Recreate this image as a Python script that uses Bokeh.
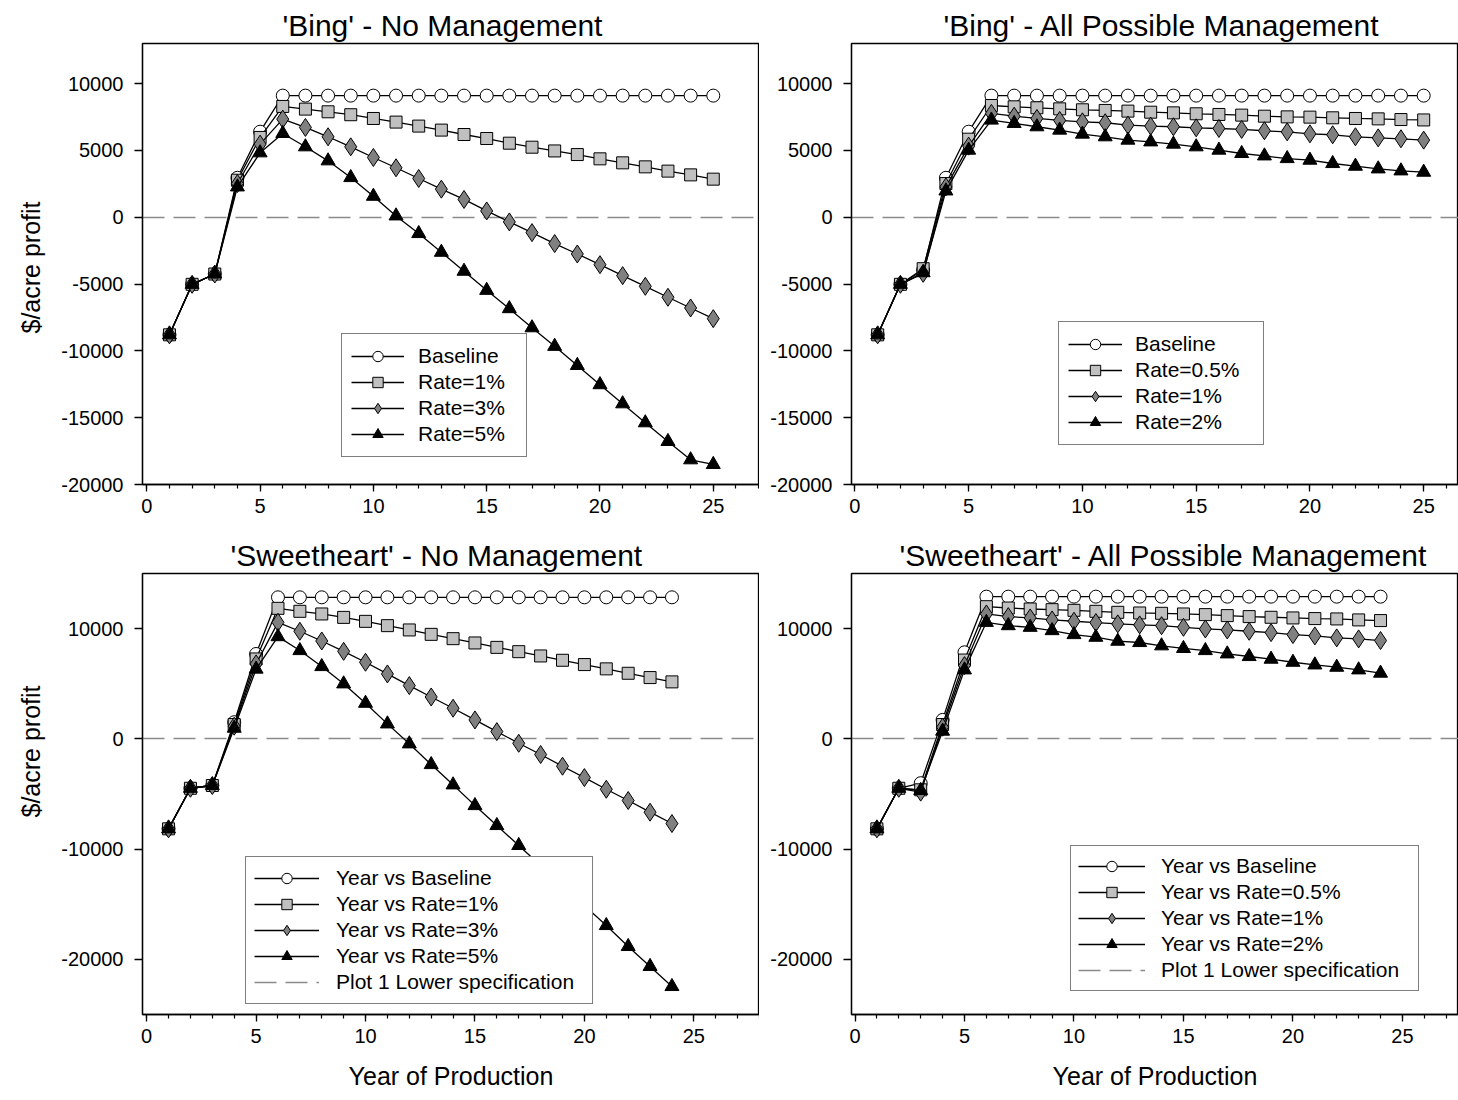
import numpy as np
from bokeh.plotting import figure
from bokeh.layouts import column, row
from bokeh.models import Legend, LegendItem, FixedTicker, Range1d, PrintfTickFormatter, Title
from bokeh.embed import file_html
from bokeh.resources import INLINE

# ---------------- data ----------------
years_bing = list(range(1, 26))
years_sweet = list(range(1, 25))
lower_spec = [0]

bing_nm_base = [-8800, -5020, -4250, 2950, 6400, 9100, 9100, 9100, 9100, 9100, 9100, 9100, 9100,
                9100, 9100, 9100, 9100, 9100, 9100, 9100, 9100, 9100, 9100, 9100, 9100]
bing_nm_r1 = [-8800, -5020, -4250, 2770, 5970, 8290, 8090, 7890, 7670, 7390, 7120, 6820, 6520,
              6190, 5890, 5540, 5240, 4960, 4690, 4370, 4070, 3770, 3450, 3170, 2850]
bing_nm_r3 = [-8800, -5020, -4250, 2520, 5470, 7340, 6720, 6020, 5270, 4470, 3700, 2900, 2100,
              1330, 470, -350, -1150, -1970, -2750, -3550, -4370, -5170, -5990, -6790, -7590]
bing_nm_r5 = [-8800, -5020, -4250, 2270, 4820, 6270, 5270, 4220, 2970, 1570, 100, -1220, -2620,
              -4040, -5470, -6840, -8270, -9660, -11090, -12530, -13960, -15380, -16780, -18150, -18500]

bing_apm_base = [-8800, -5020, -3950, 2950, 6400, 9100, 9100, 9100, 9100, 9100, 9100, 9100, 9100,
                 9100, 9100, 9100, 9100, 9100, 9100, 9100, 9100, 9100, 9100, 9100, 9100]
bing_apm_r05 = [-8800, -5020, -3850, 2520, 5840, 8360, 8260, 8190, 8110, 8040, 7990, 7940, 7860,
                7810, 7740, 7690, 7640, 7560, 7510, 7490, 7440, 7390, 7360, 7310, 7280]
bing_apm_r1 = [-8800, -5020, -4200, 2270, 5320, 7770, 7560, 7390, 7240, 7140, 7070, 6890, 6820,
               6770, 6690, 6640, 6570, 6470, 6390, 6240, 6170, 6020, 5940, 5870, 5770]
bing_apm_r2 = [-8800, -5020, -4150, 1970, 5020, 7270, 7020, 6770, 6520, 6220, 6020, 5770, 5640,
               5470, 5270, 5020, 4770, 4590, 4390, 4270, 4020, 3820, 3620, 3470, 3370]

sweet_nm_base = [-8160, -4480, -4230, 1510, 7700, 12840, 12840, 12840, 12840, 12840, 12840, 12840,
                 12840, 12840, 12840, 12840, 12840, 12840, 12840, 12840, 12840, 12840, 12840, 12840]
sweet_nm_r1 = [-8160, -4480, -4230, 1300, 7250, 11840, 11570, 11330, 11020, 10660, 10270, 9880,
               9480, 9090, 8700, 8300, 7910, 7520, 7130, 6740, 6350, 5950, 5560, 5170]
sweet_nm_r3 = [-8160, -4480, -4230, 1150, 6800, 10570, 9760, 8880, 7940, 6950, 5890, 4830,
               3800, 2780, 1720, 660, -400, -1420, -2480, -3510, -4570, -5590, -6650, -7680]
sweet_nm_r5 = [-8160, -4480, -4230, 970, 6330, 9270, 8010, 6560, 4990, 3230, 1360, -450,
               -2330, -4170, -6050, -7860, -9670, -11480, -13260, -15120, -16930, -18830, -20640, -22460]

sweet_apm_base = [-8160, -4480, -4020, 1720, 7850, 12900, 12900, 12900, 12900, 12900, 12900, 12900,
                  12900, 12900, 12900, 12900, 12900, 12900, 12900, 12900, 12900, 12900, 12900, 12900]
sweet_apm_r05 = [-8160, -4480, -4620, 1300, 7150, 11990, 11870, 11780, 11720, 11660, 11570, 11480,
                 11420, 11390, 11330, 11270, 11180, 11090, 11030, 10970, 10910, 10880, 10790, 10730]
sweet_apm_r1 = [-8160, -4480, -4830, 1060, 6650, 11330, 11090, 10970, 10790, 10670, 10550, 10430,
                10340, 10270, 10120, 9970, 9880, 9760, 9640, 9460, 9340, 9160, 9070, 8920]
sweet_apm_r2 = [-8160, -4480, -4680, 700, 6260, 10570, 10270, 10120, 9820, 9460, 9220, 8860,
                8740, 8440, 8200, 8010, 7710, 7470, 7230, 6950, 6710, 6500, 6260, 5960]

labels_nm = ["Baseline", "Rate=1%", "Rate=3%", "Rate=5%"]
labels_apm = ["Baseline", "Rate=0.5%", "Rate=1%", "Rate=2%"]
labels_nm_s = ["Year vs Baseline", "Year vs Rate=1%", "Year vs Rate=3%", "Year vs Rate=5%"]
labels_apm_s = ["Year vs Baseline", "Year vs Rate=0.5%", "Year vs Rate=1%", "Year vs Rate=2%"]
spec_label = "Plot 1 Lower specification"
y_title = "$/acre profit"
x_title = "Year of Production"

titles = ["'Bing' - No Management", "'Bing' - All Possible Management",
          "'Sweetheart' - No Management", "'Sweetheart' - All Possible Management"]
x_major = [0, 5, 10, 15, 20, 25]
x_minor = list(range(0, 29))
y_ticks_bing = [-20000, -15000, -10000, -5000, 0, 5000, 10000]
y_ticks_sweet = [-20000, -10000, 0, 10000]

# ---------------- style ----------------
FONT = "Liberation Sans"
MARKERS = [("circle", "white", 13), ("square", "#c0c0c0", 12),
           ("diamond", "#808080", 18), ("triangle", "black", 14)]


def panel(title, years, series, labels, xr, yr, yticks, width, height, left, top, bottom,
          ylabel_off, xlabel, legend_loc, padding, glyph_w, standoff, label_w, spec, title_off):
    p = figure(width=width, height=height, x_range=Range1d(*xr), y_range=Range1d(*yr),
               output_backend="svg", toolbar_location=None,
               min_border_left=left, min_border_right=0, min_border_top=top,
               min_border_bottom=bottom, background_fill_color="white",
               border_fill_color="white", outline_line_color="black",
               outline_line_width=1.3, title=title)
    p.title.text_font = FONT
    p.title.text_font_size = "30px"
    p.title.text_font_style = "normal"
    p.title.text_color = "black"
    p.title.align = "left"
    p.title.offset = title_off
    p.title.standoff = 4
    p.xgrid.visible = False
    p.ygrid.visible = False

    ax = p.xaxis[0]
    ax.ticker = FixedTicker(ticks=x_major, minor_ticks=x_minor)
    ay = p.yaxis[0]
    ay.ticker = FixedTicker(ticks=yticks, minor_ticks=[])
    ay.formatter = PrintfTickFormatter(format="%d")
    for a in (ax, ay):
        a.axis_line_color = "black"
        a.axis_line_width = 1.3
        a.major_tick_line_color = "black"
        a.major_tick_line_width = 1.3
        a.minor_tick_line_color = "black"
        a.minor_tick_line_width = 1.2
        a.major_tick_in = 0
        a.major_tick_out = 7
        a.minor_tick_in = 0
        a.minor_tick_out = 4
        a.major_label_text_font = FONT
        a.major_label_text_font_size = "20px"
        a.major_label_text_color = "black"
        a.major_label_standoff = 7
        a.axis_label_text_font = FONT
        a.axis_label_text_font_size = "25px"
        a.axis_label_text_font_style = "normal"
        a.axis_label_text_color = "black"
    ay.major_tick_out = 8
    ay.major_label_standoff = 11
    if ylabel_off is not None:
        p.add_layout(Title(text=y_title, align="left", offset=ylabel_off, standoff=27,
                           text_font=FONT, text_font_size="25px", text_font_style="normal",
                           text_color="black"), "left")
    if xlabel:
        ax.axis_label = x_title
        ax.axis_label_standoff = 16

    spec_r = p.hspan(y=lower_spec, line_color="#8a8a8a", line_width=1.4,
                     line_dash="22 9", level="underlay")

    items = []
    for ys, lab, (mk, fc, sz) in zip(series, labels, MARKERS):
        lr = p.line(years, ys, line_color="black", line_width=1.3)
        sr = p.scatter(years, ys, marker=mk, size=sz, fill_color=fc,
                       line_color="black", line_width=1)
        items.append(LegendItem(label=lab, renderers=[lr, sr]))
    if spec:
        items.append(LegendItem(label=spec_label, renderers=[spec_r]))

    leg = Legend(items=items, location=legend_loc, margin=0, padding=padding,
                 spacing=0, glyph_height=26, glyph_width=glyph_w, label_height=20,
                 label_width=label_w, label_standoff=standoff,
                 label_text_font=FONT, label_text_font_size="21px",
                 label_text_color="black",
                 border_line_color="black", border_line_width=1.3,
                 background_fill_color="white", background_fill_alpha=1.0)
    p.add_layout(leg)
    return p


p1 = panel(titles[0], years_bing, [bing_nm_base, bing_nm_r1, bing_nm_r3, bing_nm_r5], labels_nm,
           (-0.19, 27.04), (-20000, 13000), y_ticks_bing, 759, 530, 142, 43, 46,
           151, False, (199, 27), 9, 53, 14, 99, False, 140)
p2 = panel(titles[1], years_bing, [bing_apm_base, bing_apm_r05, bing_apm_r1, bing_apm_r2], labels_apm,
           (-0.15, 26.53), (-20000, 13000), y_ticks_bing, 699, 530, 92, 43, 46,
           None, False, (207, 39), 9, 54, 13, 119, False, 92)
p3 = panel(titles[2], years_sweet, [sweet_nm_base, sweet_nm_r1, sweet_nm_r3, sweet_nm_r5], labels_nm_s,
           (-0.19, 28.0), (-25000, 15000), y_ticks_sweet, 759, 570, 142, 43, 86,
           197, True, (103, 10), 8, 65, 17, 248, True, 88)
p4 = panel(titles[3], years_sweet, [sweet_apm_base, sweet_apm_r05, sweet_apm_r1, sweet_apm_r2], labels_apm_s,
           (-0.16, 27.56), (-25000, 15000), y_ticks_sweet, 699, 570, 92, 43, 86,
           None, True, (219, 23), 7, 67, 16, 250, True, 48)

layout = column(row(p1, p2), row(p3, p4))
open("out.html", "w").write(file_html(layout, INLINE))
